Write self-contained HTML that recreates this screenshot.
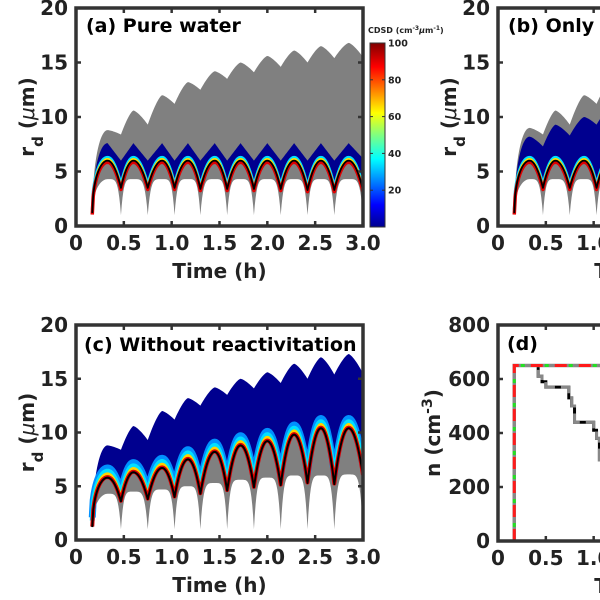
<!DOCTYPE html>
<html><head><meta charset="utf-8"><style>
html,body{margin:0;padding:0;background:#fff;}
svg{display:block;font-family:"DejaVu Sans","Liberation Sans",sans-serif;font-weight:bold;}
</style></head><body>
<svg id="fig" width="600" height="600" viewBox="0 0 600 600">
<defs>
<linearGradient id="jet" x1="0" y1="1" x2="0" y2="0">
<stop offset="0" stop-color="#00008f"/><stop offset="0.12" stop-color="#0000ff"/><stop offset="0.37" stop-color="#00ffff"/>
<stop offset="0.5" stop-color="#80ff80"/><stop offset="0.62" stop-color="#ffff00"/><stop offset="0.87" stop-color="#ff0000"/><stop offset="1" stop-color="#800000"/>
</linearGradient>
<clipPath id="cpA"><rect x="76" y="8" width="287" height="218"/></clipPath>
<clipPath id="cpB"><rect x="498" y="8" width="287" height="218"/></clipPath>
<clipPath id="cpC"><rect x="76" y="325" width="287" height="215"/></clipPath>
<clipPath id="cpD"><rect x="498" y="325" width="287" height="216"/></clipPath>
</defs>
</svg>
<script>
// ---- data ----
const extremaTimes=[0.17,0.33,0.47,0.6,0.75,0.9,1.03,1.17,1.3,1.45,1.58,1.72,1.86,2.0,2.14,2.28,2.42,2.56,2.7,2.85,3.0];
const greyTopA=[1.2,8.8,8.4,10.6,9.3,12,11.2,13.2,12.5,14.2,13.5,15,14.1,15.6,14.6,16.1,15,16.5,15.4,16.8,15.5];
const blueTopA=[1.2,7.6,6,7.6,6,7.6,6,7.6,6,7.6,6,7.6,6,7.6,6,7.6,6,7.6,6,7.6,6.2];
const lineA=[1.2,6,3.5,6,3.5,6,3.5,6,3.4,6,3.4,6,3.4,6,3.4,6,3.3,6,3.3,6,3.3];
const greyBotA=[1.2,4.3,1,4.3,1,4.3,1,4.3,1,4.3,1,4.3,1,4.3,1,4.3,1,4.3,1,4.3,1];
const greyTopB=[1.2,9,8.4,10.6,9.3,12,11.2,13.2,12.5,14.2,13.5,15,14.1,15.6,14.6,16.1,15,16.5,15.4,16.8,15.5];
const blueTopB=[1.2,8.2,7.3,9.3,8.3,10,9.3,10.8,10,11.5,10.8,12.2,11.4,12.8,12,13.3,12.4,13.7,12.8,14,13];
const lineB=lineA;
const greyBotB=greyBotA;
const blueTopC=[1.2,8.8,8.4,10.6,9.3,12,11.2,13.2,12.5,14.2,13.5,15,14.1,15.6,14.6,16.4,15,17,15.4,17.3,15.5];
const lineC=[1.2,5.8,3.6,6.3,3.8,6.7,4.0,7.5,4.3,8.2,4.6,8.8,4.9,9.2,5.1,9.8,5.3,10.4,5.2,10.4,6];
const greyBotC=[1.2,4.3,1,4.5,1,4.7,1,5,1,5.3,1,5.6,1,5.8,1,6,1,6,1,6.1,1];
const xTicks=[0,0.5,1.0,1.5,2.0,2.5,3.0];
const xTickLabels=["0","0.5","1.0","1.5","2.0","2.5","3.0"];
const rTicks=[0,5,10,15,20];
const nTicks=[0,200,400,600,800];
const cbTicks=[20,40,60,80,100];
const stepTimes=[0,0.15,0.17,0.38,0.42,0.46,0.5,0.72,0.74,0.77,0.8,0.98,1.0,1.03,1.06,1.1];
const stepValues=[0,0,650,650,610,590,570,570,530,500,440,440,410,380,300,300];
const flatTimes=[0.17,0.17,3.0];
const flatValues=[0,650,650];

const svg=document.getElementById('fig');
const NS='http://www.w3.org/2000/svg';
function mk(tag,attrs,parent){const e=document.createElementNS(NS,tag);for(const k in attrs)e.setAttribute(k,attrs[k]);(parent||svg).appendChild(e);return e;}
function axis(x0,x1,y0,y1,tmax,vmax){return {x:t=>x0+(x1-x0)*t/tmax,y:v=>y0+(y1-y0)*v/vmax};}
function curve(ts,vs,ax,p){const pts=[];for(let i=0;i<ts.length-1;i++){const t0=ts[i],t1=ts[i+1],v0=vs[i],v1=vs[i+1];const N=16;for(let k=0;k<=N;k++){const t=t0+(t1-t0)*k/N;let v;const f=k/N;
 if(i===0){v=v0+(v1-v0)*Math.sqrt(1-(1-f)*(1-f));}
 else if(!p){v=v0+(v1-v0)*f;}
 else if(v1>=v0){const u=1-f;v=v0+(v1-v0)*(1-Math.pow(u,p));}
 else{const u=f;v=v1+(v0-v1)*(1-Math.pow(u,p));}
 pts.push([ax.x(t),ax.y(v)]);}}return pts;}
function band(top,bot,ax,fill,g,name,pt,pb){const a=curve(extremaTimes,top,ax,pt),b=curve(extremaTimes,bot,ax,pb).reverse();const p=mk('polygon',{points:a.concat(b).map(q=>q.join(',')).join(' '),fill:fill},g);}
function line(vals,ax,col,w,g,name,off){const v=vals.map(x=>x+(off||0));const p=mk('polyline',{points:curve(extremaTimes,v,ax,2).map(q=>q.join(',')).join(' '),fill:'none',stroke:col,'stroke-width':w,'stroke-linejoin':'round'},g);}
function frame(x0,x1,y0,y1,yt,ymax,ax,name,xlab,ylab,ylx){
  const g=mk('g',{});
  mk('rect',{x:x0,y:y1,width:x1-x0,height:y0-y1,fill:'none',stroke:'#333','stroke-width':3.5},g);
  xTicks.forEach((t,i)=>{const X=ax.x(t);mk('line',{x1:X,x2:X,y1:y0,y2:y0-5,stroke:'#333','stroke-width':2.5},g);mk('line',{x1:X,x2:X,y1:y1,y2:y1+5,stroke:'#333','stroke-width':2.5},g);const tx=mk('text',{x:X,y:y0+24,'text-anchor':'middle','font-size':20,fill:'#222'},g);tx.textContent=xTickLabels[i];});
  yt.forEach(v=>{const Y=ax.y(v);mk('line',{x1:x0,x2:x0+5,y1:Y,y2:Y,stroke:'#333','stroke-width':2.5},g);mk('line',{x1:x1,x2:x1-5,y1:Y,y2:Y,stroke:'#333','stroke-width':2.5},g);const tx=mk('text',{x:x0-8,y:Y+7,'text-anchor':'end','font-size':20,fill:'#222'},g);tx.textContent=String(v);});
  const xl=mk('text',{x:(x0+x1)/2,y:y0+52,'text-anchor':'middle','font-size':20,fill:'#222'},g);xl.textContent=xlab;
  const yl=mk('text',{x:0,y:0,'text-anchor':'middle','font-size':20,fill:'#222',transform:`translate(${ylx},${(y0+y1)/2}) rotate(-90)`},g);yl.innerHTML=ylab;
}
function plabel(x,y,txt,name){const t=mk('text',{x:x,y:y,'font-size':19,fill:'#000'});t.textContent=txt;}

const GREY='#808080',BLUE='#00008f';
// Panel A
const axA=axis(76,363,226,8,3,20);
const gA=mk('g',{'clip-path':'url(#cpA)'});
band(greyTopA,greyBotA,axA,GREY,gA,'grey-envelope-a',1.4,5);
band(blueTopA,lineA,axA,BLUE,gA,'cdsd-field-a',0,2);
line(lineA,axA,'#00e0ff',3,gA,'cdsd-cyan-a',0.3);line(lineA,axA,'#ffe000',2,gA,'cdsd-yellow-a',0.15);line(lineA,axA,'#e00000',3.5,gA,'cdsd-red-a',-0.15);line(lineA,axA,'#000',1.8,gA,'mean-radius-line-a');
frame(76,363,226,8,rTicks,20,axA,'panel-a','Time (h)','r<tspan baseline-shift="sub" font-size="15">d</tspan> (<tspan font-style="italic" font-weight="normal">μ</tspan>m)',34);
plabel(86,32,'(a) Pure water','panel-a-title');
// colorbar
const cb=mk('g',{});
mk('rect',{x:370,y:43,width:15,height:184,fill:'url(#jet)',stroke:'#333','stroke-width':1},cb);
cbTicks.forEach(v=>{const Y=227-184*v/100;mk('line',{x1:370,x2:373,y1:Y,y2:Y,stroke:'#333'},cb);mk('line',{x1:385,x2:382,y1:Y,y2:Y,stroke:'#333'},cb);const t=mk('text',{x:388,y:Y+3.5,'font-size':9.5,fill:'#222'},cb);t.textContent=v;});
const cbt=mk('text',{x:368,y:33,'font-size':8,fill:'#222'},cb);cbt.innerHTML='CDSD (cm<tspan baseline-shift="super" font-size="6">-3</tspan><tspan font-style="italic">μ</tspan>m<tspan baseline-shift="super" font-size="6">-1</tspan>)';
// Panel B
const axB=axis(498,785,226,8,3,20);
const gB=mk('g',{'clip-path':'url(#cpB)'});
band(greyTopB,greyBotB,axB,GREY,gB,'grey-envelope-b',1.4,5);
band(blueTopB,lineB,axB,BLUE,gB,'cdsd-field-b',1.4,2);
line(lineB,axB,'#00e0ff',3,gB,'cdsd-cyan-b',0.3);line(lineB,axB,'#ffe000',2,gB,'cdsd-yellow-b',0.15);line(lineB,axB,'#e00000',3.5,gB,'cdsd-red-b',-0.15);line(lineB,axB,'#000',1.8,gB,'mean-radius-line-b');
frame(498,785,226,8,rTicks,20,axB,'panel-b','Time (h)','r<tspan baseline-shift="sub" font-size="15">d</tspan> (<tspan font-style="italic" font-weight="normal">μ</tspan>m)',456);
plabel(508,32,'(b) Only condensation','panel-b-title');
// Panel C
const axC=axis(76,363,540,325,3,20);
const gC=mk('g',{'clip-path':'url(#cpC)'});
band(blueTopC,lineC,axC,BLUE,gC,'cdsd-field-c',1.4,2);
band(lineC,greyBotC,axC,GREY,gC,'grey-envelope-c',2,5);
line(lineC,axC,'#0090ff',7,gC,'cdsd-blue-c',0.9);line(lineC,axC,'#00e0ff',5,gC,'cdsd-cyan-c',0.6);line(lineC,axC,'#ffd000',3,gC,'cdsd-yellow-c',0.35);line(lineC,axC,'#e00000',4,gC,'cdsd-red-c',0.05);line(lineC,axC,'#000',2,gC,'mean-radius-line-c');
frame(76,363,540,325,rTicks,20,axC,'panel-c','Time (h)','r<tspan baseline-shift="sub" font-size="15">d</tspan> (<tspan font-style="italic" font-weight="normal">μ</tspan>m)',34);
plabel(84,351,'(c) Without reactivitation','panel-c-title');
// Panel D
const axD=axis(498,785,541,325,3,800);
const gD=mk('g',{'clip-path':'url(#cpD)'});
function poly(ts,vs,ax,attrs,g,name){const p=mk('polyline',Object.assign({points:ts.map((t,i)=>ax.x(t)+','+ax.y(vs[i])).join(' '),fill:'none'},attrs),g);}
const stepT=[],stepV=[];
for(let i=0;i<stepTimes.length;i++){if(i>0){stepT.push(stepTimes[i]);stepV.push(stepValues[i-1]);}stepT.push(stepTimes[i]);stepV.push(stepValues[i]);}
poly(stepT,stepV,axD,{stroke:'#000','stroke-width':3},gD,'number-conc-black');
poly(stepT,stepV,axD,{stroke:'#888','stroke-width':3,'stroke-dasharray':'14 6'},gD,'number-conc-grey');
poly(flatTimes,flatValues,axD,{stroke:'#888','stroke-width':3.5},gD,'number-conc-flat-grey');
poly(flatTimes,flatValues,axD,{stroke:'#ff1a1a','stroke-width':3,'stroke-dasharray':'12 12'},gD,'number-conc-red');
poly(flatTimes,flatValues,axD,{stroke:'#22e022','stroke-width':3,'stroke-dasharray':'4 20','stroke-dashoffset':'-14'},gD,'number-conc-green');
frame(498,785,541,325,nTicks,800,axD,'panel-d','Time (h)','n (cm<tspan baseline-shift="super" font-size="14">-3</tspan>)',440);
plabel(507,350,'(d)','panel-d-title');
</script>
</body></html>
